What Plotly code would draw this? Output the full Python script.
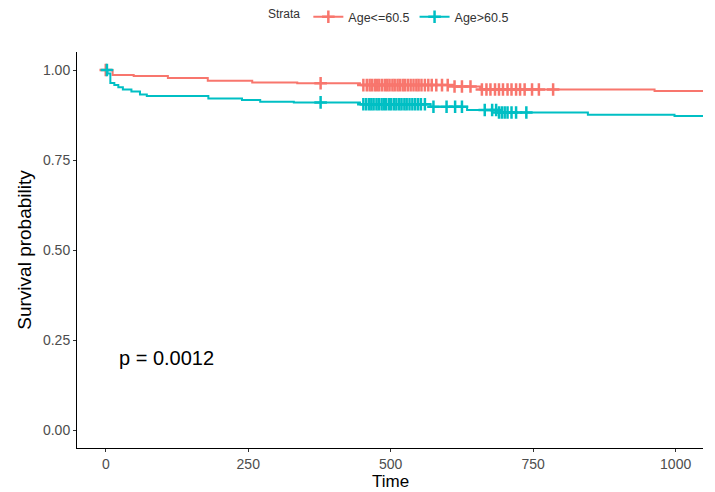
import plotly.graph_objects as go

# Kaplan-Meier step data (time, survival)
red_time = [0, 12, 49, 109, 179, 257, 336, 446, 610, 657, 963, 1048]
red_surv = [1.0, 0.986, 0.983, 0.978, 0.970, 0.965, 0.963, 0.958, 0.954, 0.946, 0.942, 0.942]

teal_time = [0, 3, 8, 15, 22, 30, 45, 60, 72, 180, 239, 271, 330, 446, 570, 634, 690, 846, 998, 1048]
teal_surv = [1.0, 0.99, 0.964, 0.958, 0.952, 0.946, 0.940, 0.932, 0.928, 0.921, 0.917, 0.912, 0.910,
             0.905, 0.898, 0.889, 0.882, 0.876, 0.872, 0.872]

red_cens = [0, 377, 452, 458, 463, 467, 472, 476, 480, 485, 490, 494, 498, 503, 507, 512, 516, 521,
            525, 530, 535, 540, 545, 549, 554, 560, 566, 572, 580, 590, 600, 612, 625, 640, 660, 668,
            675, 683, 690, 697, 705, 712, 720, 727, 735, 748, 760, 785]
teal_cens = [2, 377, 452, 457, 462, 466, 470, 475, 479, 484, 488, 492, 497, 501, 506, 510, 515, 519,
             524, 528, 533, 538, 543, 548, 553, 560, 575, 598, 613, 625, 665, 678, 685, 690, 695, 700,
             705, 712, 720, 738]

names = ["Age<=60.5", "Age>60.5"]
colors = ["#F8766D", "#00BFC4"]
x_ticks = [0, 250, 500, 750, 1000]
y_ticks = [0.0, 0.25, 0.5, 0.75, 1.0]
y_ticklabels = ["0.00", "0.25", "0.50", "0.75", "1.00"]

FONT = "Liberation Sans, Arial"


def surv_at(times, survs, t):
    s = survs[0]
    for ti, si in zip(times, survs):
        if ti <= t:
            s = si
    return s


fig = go.Figure()
for times, survs, cens, name, col in [
    (red_time, red_surv, red_cens, names[0], colors[0]),
    (teal_time, teal_surv, teal_cens, names[1], colors[1]),
]:
    fig.add_trace(go.Scatter(
        x=times, y=survs, mode="lines", line=dict(color=col, width=2, shape="hv"),
        name=name, legendgroup=name, showlegend=False, hoverinfo="skip"))
    fig.add_trace(go.Scatter(
        x=cens, y=[surv_at(times, survs, t) for t in cens], mode="markers",
        marker=dict(symbol="cross-thin", size=9, line=dict(color=col, width=2.5)),
        name=name, legendgroup=name, showlegend=False, hoverinfo="skip"))
    # legend entry
    fig.add_trace(go.Scatter(
        x=[None], y=[None], mode="lines+markers",
        line=dict(color=col, width=2),
        marker=dict(symbol="cross-thin", size=9, line=dict(color=col, width=2.5)),
        name=name, legendgroup=name, showlegend=True))

fig.add_annotation(x=107, y=0.2, xref="x", yref="y", text="p = 0.0012", showarrow=False,
                   font=dict(family=FONT, size=20, color="black"))

# x-axis title placed explicitly below the tick labels
fig.add_annotation(x=0.5, y=-0.0845, xref="paper", yref="paper", text="Time", showarrow=False,
                   xanchor="center", yanchor="middle",
                   font=dict(family=FONT, size=17, color="black"))

axis_common = dict(showline=True, linecolor="black", linewidth=1, ticks="outside", ticklen=3,
                   tickcolor="#333333", showgrid=False, zeroline=False,
                   tickfont=dict(family=FONT, size=14, color="#4D4D4D"),
                   title_font=dict(family=FONT, size=19, color="black"))

fig.update_layout(
    width=715, height=492,
    margin=dict(l=77, r=12, t=52, b=44, autoexpand=False),
    paper_bgcolor="white", plot_bgcolor="white",
    xaxis=dict(range=[-50.5, 1048], tickvals=x_ticks, **axis_common),
    yaxis=dict(range=[-0.05, 1.05], tickvals=y_ticks, ticktext=y_ticklabels,
               title=dict(text="Survival probability", standoff=6), **axis_common),
    legend=dict(orientation="h", x=0.5, xanchor="center", y=1.088, yanchor="middle",
                title=dict(text="Strata", font=dict(family=FONT, size=12, color="#333")),
                font=dict(family=FONT, size=12.5, color="#333"),
                itemwidth=30),
    showlegend=True,
)

fig.write_html("out.html")
